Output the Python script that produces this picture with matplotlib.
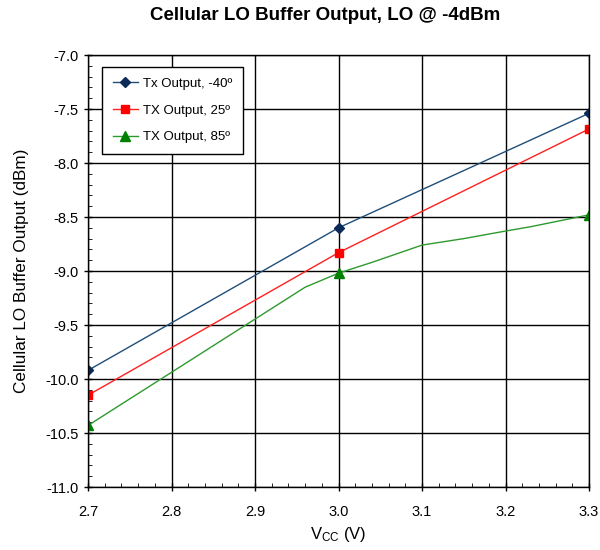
import matplotlib.pyplot as plt
from matplotlib.ticker import MultipleLocator

# データ
vcc_blue = [2.7, 3.0, 3.3]
out_m40 = [-9.92, -8.60, -7.54]
vcc_red = [2.7, 3.0, 3.3]
out_25 = [-10.15, -8.83, -7.685]
vcc_green = [2.7, 2.96, 3.0, 3.04, 3.1, 3.15, 3.2, 3.23, 3.3]
out_85 = [-10.43, -9.15, -9.02, -8.92, -8.76, -8.70, -8.63, -8.59, -8.48]
green_marks = [0, 2, 8]

plt.rcParams['font.family'] = ['Liberation Sans', 'DejaVu Sans']
plt.rcParams['mathtext.fontset'] = 'custom'
plt.rcParams['mathtext.rm'] = 'Liberation Sans'
plt.rcParams['mathtext.it'] = 'Liberation Sans'

fig = plt.figure(figsize=(6, 5.5), dpi=100)
ax = fig.add_axes([0.1467, 0.1145, 0.835, 0.7855])

ax.plot(vcc_blue, out_m40, color='#1F4E79', lw=1, marker='D', ms=5,
        mfc='#0A2A5A', mec='#0A2A5A', label='Tx Output, -40º')
ax.plot(vcc_red, out_25, color='#FF2020', lw=1, marker='s', ms=6,
        mfc='#FF0000', mec='#FF0000', label='TX Output, 25º')
ax.plot(vcc_green, out_85, color='#2E9A2E', lw=1, marker='^', ms=7,
        mfc='#008000', mec='#008000', markevery=green_marks, label='TX Output, 85º')

# グラフの装飾
ax.set_xlim(2.7, 3.3)
ax.set_ylim(-11.0, -7.0)
ax.xaxis.set_major_locator(MultipleLocator(0.1))
ax.xaxis.set_minor_locator(MultipleLocator(0.02))
ax.yaxis.set_major_locator(MultipleLocator(0.5))
ax.yaxis.set_minor_locator(MultipleLocator(0.1))
ax.xaxis.set_major_formatter(plt.FormatStrFormatter('%.1f'))
ax.yaxis.set_major_formatter(plt.FormatStrFormatter('%.1f'))
ax.tick_params(which='major', direction='inout', length=6, labelsize=10.5, width=1)
ax.tick_params(which='minor', direction='in', length=3)
ax.tick_params(axis='x', pad=10)
ax.grid(True, which='major', color='black', lw=1)
for s in ax.spines.values():
    s.set_linewidth(1)

ax.set_xlabel('V$_{\\mathrm{CC}}$ (V)', fontsize=12)
ax.set_ylabel('Cellular LO Buffer Output (dBm)', fontsize=12.3, labelpad=12)
fig.text(0.542, 0.972, 'Cellular LO Buffer Output, LO @ -4dBm', fontsize=13.5,
         fontweight='bold', ha='center', va='center')

leg = ax.legend(loc='upper left', bbox_to_anchor=(0.028, 0.972), fontsize=9.5,
                fancybox=False, framealpha=1, edgecolor='black', borderpad=0.8,
                labelspacing=1.1, handlelength=1.9, handletextpad=0.4,
                borderaxespad=0)
leg.get_frame().set_linewidth(1)

plt.savefig('out.png')
